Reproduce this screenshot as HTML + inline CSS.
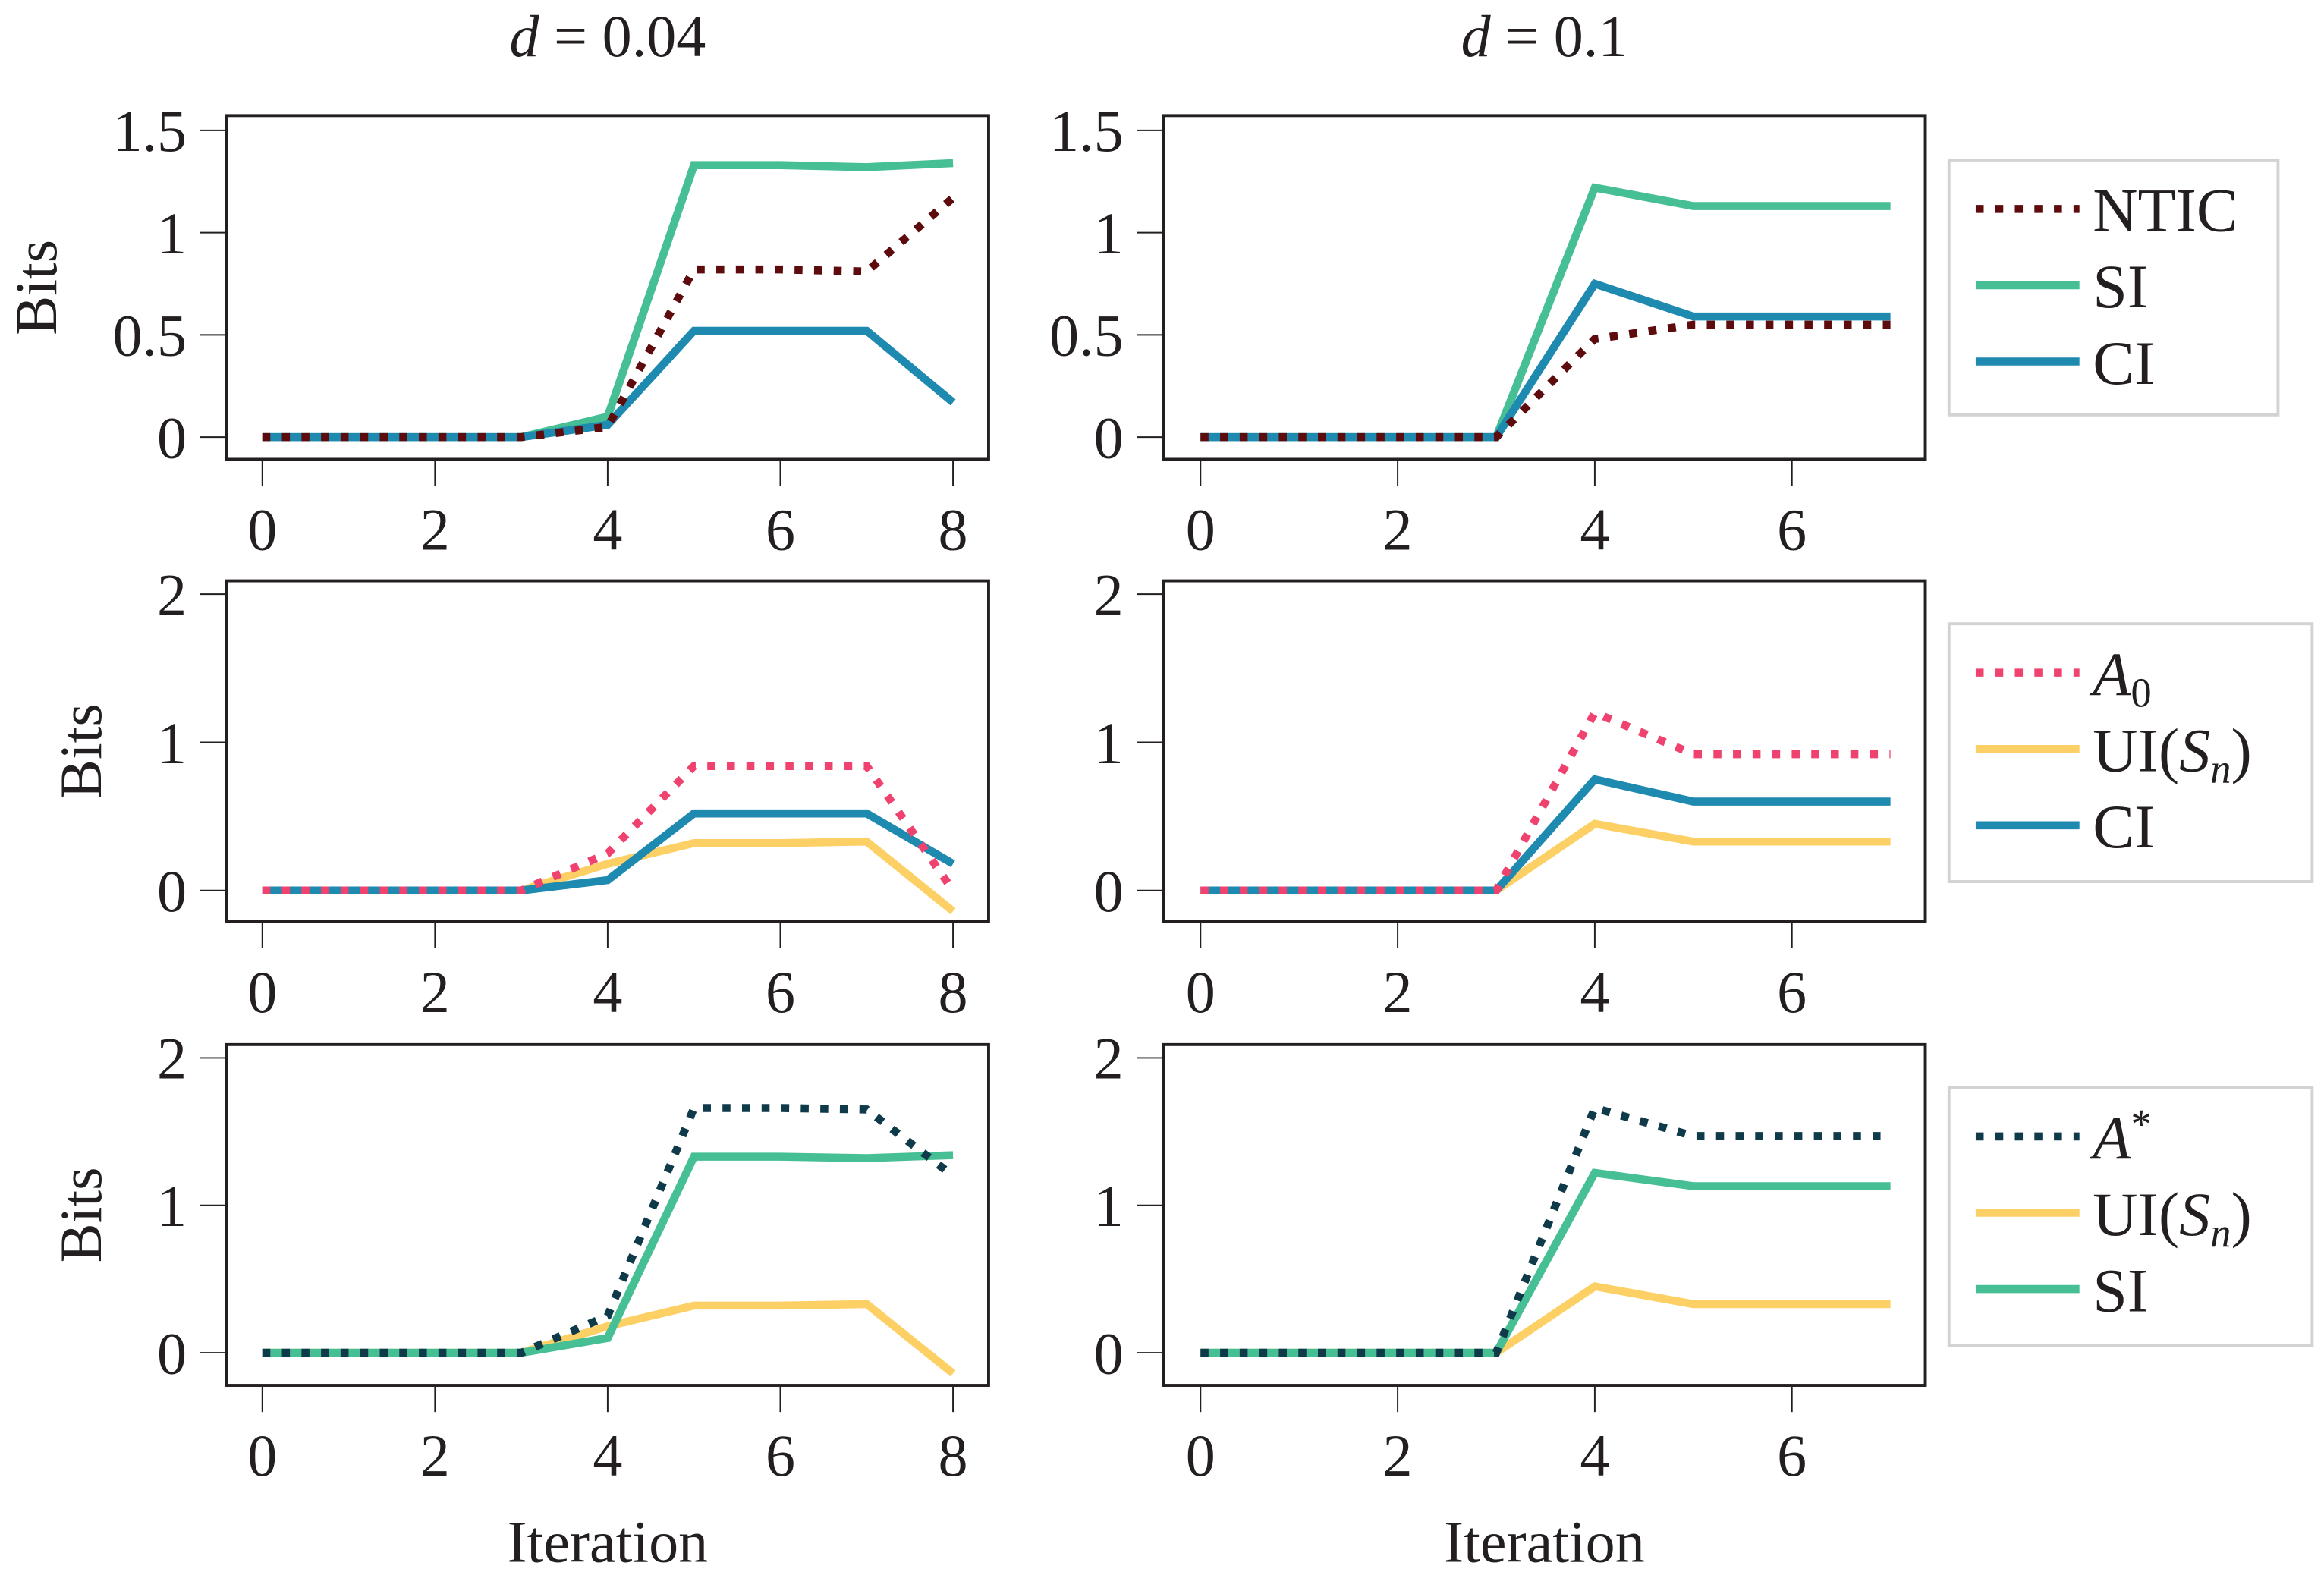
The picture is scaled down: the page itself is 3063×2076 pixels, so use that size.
<!DOCTYPE html>
<html><head><meta charset="utf-8"><style>
html,body{margin:0;padding:0;background:#fff;}
svg{display:block;}
text{font-family:"Liberation Serif",serif;fill:#231f20;}
</style></head><body>
<svg id="chart" width="3063" height="2076" viewBox="0 0 1568 1063" preserveAspectRatio="none" xmlns="http://www.w3.org/2000/svg">
<text x="410" y="38" font-size="40" text-anchor="middle"><tspan font-style="italic">d</tspan> = 0.04</text>
<text x="1042" y="38" font-size="40" text-anchor="middle"><tspan font-style="italic">d</tspan> = 0.1</text>
<text x="410" y="1054" font-size="40" text-anchor="middle">Iteration</text>
<text x="1042" y="1054" font-size="40" text-anchor="middle">Iteration</text>
<g id="plots"></g>
</svg>
<script>
const xLeft = [0,1,2,3,4,5,6,7,8];
const xRight = [0,1,2,3,4,5,6,7];
const tlNTIC = [0,0,0,0,0.05,0.82,0.82,0.81,1.17];
const tlSI = [0,0,0,0,0.1,1.33,1.33,1.32,1.34];
const tlCI = [0,0,0,0,0.06,0.52,0.52,0.52,0.17];
const trNTIC = [0,0,0,0,0.48,0.55,0.55,0.55];
const trSI = [0,0,0,0,1.22,1.13,1.13,1.13];
const trCI = [0,0,0,0,0.75,0.59,0.59,0.59];
const mlA0 = [0,0,0,0,0.25,0.84,0.84,0.84,0.0];
const mlUI = [0,0,0,0,0.18,0.32,0.32,0.33,-0.14];
const mlCI = [0,0,0,0,0.07,0.52,0.52,0.52,0.18];
const mrA0 = [0,0,0,0,1.2,0.92,0.92,0.92];
const mrUI = [0,0,0,0,0.45,0.33,0.33,0.33];
const mrCI = [0,0,0,0,0.75,0.6,0.6,0.6];
const blAS = [0,0,0,0,0.25,1.66,1.66,1.65,1.2];
const blUI = [0,0,0,0,0.18,0.32,0.32,0.33,-0.14];
const blSI = [0,0,0,0,0.1,1.33,1.33,1.32,1.34];
const brAS = [0,0,0,0,1.66,1.47,1.47,1.47];
const brUI = [0,0,0,0,0.45,0.33,0.33,0.33];
const brSI = [0,0,0,0,1.22,1.13,1.13,1.13];
const yTicksTop = [0,0.5,1,1.5];
const yTicksLow = [0,1,2];
const xTicksLeft = [0,2,4,6,8];
const xTicksRight = [0,2,4,6];

const C = {NTIC:'#5e0b0d', SI:'#47bf94', CI:'#1f8ab0', A0:'#f0426e', UI:'#fdd065', AS:'#0f3a4a'};
const NS='http://www.w3.org/2000/svg';
const root=document.getElementById('plots');
function mk(tag,attrs,parent){const e=document.createElementNS(NS,tag);for(const k in attrs)e.setAttribute(k,attrs[k]);(parent||root).appendChild(e);return e;}

function panel(name,box,xr,yr,xTicks,yTicks,series,bitsLabel){
  const g=mk('g',{});
  
  
  const sx=v=>box.x0px+(v-xr[0])*(box.x1px-box.x0px)/(xr[1]-xr[0]);
  const sy=v=>box.y0px+(v-yr[0])*(box.y1px-box.y0px)/(yr[1]-yr[0]);
  xTicks.forEach(t=>{
    const l=mk('line',{x1:sx(t),x2:sx(t),y1:box.b+1,y2:box.b+18,stroke:'#231f20','stroke-width':1},g);
    
    
    const tx=mk('text',{x:sx(t),y:box.b+61,'font-size':40,'text-anchor':'middle'},g);
    
    
    tx.textContent=String(t);
  });
  yTicks.forEach(t=>{
    const l=mk('line',{x1:box.l-18,x2:box.l,y1:sy(t),y2:sy(t),stroke:'#231f20','stroke-width':1},g);
    
    
    const tx=mk('text',{x:box.l-27,y:sy(t)+14,'font-size':40,'text-anchor':'end'},g);
    
    
    tx.textContent=String(t);
  });
  series.forEach(s=>{
    const pts=s.data.map((v,i)=>sx(s.x[i])+','+sy(v)).join(' ');
    const p=mk('polyline',{points:pts,fill:'none',stroke:s.color,'stroke-width':5.4,'stroke-linejoin':'miter'},g);
    if(s.dot)p.setAttribute('stroke-dasharray','5.4 7.8');
    
    
  });
  const fr=mk('rect',{x:box.l,y:box.t,width:box.r-box.l,height:box.b-box.t,fill:'none',stroke:'#231f20','stroke-width':2},g);
  
  
  if(bitsLabel){
    const cy=(box.t+box.b)/2;
    const bx=mk('text',{x:bitsLabel,y:cy,'font-size':40,'text-anchor':'middle',transform:'rotate(-90 '+bitsLabel+' '+cy+')'},g);
    
    
    bx.textContent='Bits';
  }
}
function legend(name,box,entries){
  const g=mk('g',{});
  
  
  mk('rect',{x:box.x,y:box.y,width:box.w,height:box.h,fill:'#fff',stroke:'#d3d3d3','stroke-width':2},g);
  entries.forEach((e,i)=>{
    const y=box.y+33+i*51.5;
    const l=mk('line',{x1:box.x+18,x2:box.x+88,y1:y,y2:y,stroke:e.color,'stroke-width':5.4},g);
    if(e.dot)l.setAttribute('stroke-dasharray','5.4 7.8');
    
    
    const t=mk('text',{x:box.x+97,y:y+15,'font-size':42},g);
    
    
    t.innerHTML=e.label;
  });
}
const colL={l:153,r:667,x0px:177,x1px:643};
const colR={l:785,r:1299,x0px:810,x1px:1209};
const rowT={t:78,b:310,y0px:295,y1px:88};
const rowM={t:392,b:622,y0px:601,y1px:401};
const rowB={t:705,b:935,y0px:913,y1px:714};
const B=(c,r)=>Object.assign({},c,r);
panel('panel-top-left',B(colL,rowT),[0,8],[0,1.5],xTicksLeft,yTicksTop,[
 {name:'si',x:xLeft,data:tlSI,color:C.SI},{name:'ci',x:xLeft,data:tlCI,color:C.CI},{name:'ntic',x:xLeft,data:tlNTIC,color:C.NTIC,dot:true}],38);
panel('panel-top-right',B(colR,rowT),[0,6],[0,1.5],xTicksRight,yTicksTop,[
 {name:'si',x:xRight,data:trSI,color:C.SI},{name:'ci',x:xRight,data:trCI,color:C.CI},{name:'ntic',x:xRight,data:trNTIC,color:C.NTIC,dot:true}],null);
panel('panel-middle-left',B(colL,rowM),[0,8],[0,2],xTicksLeft,yTicksLow,[
 {name:'ui',x:xLeft,data:mlUI,color:C.UI},{name:'ci',x:xLeft,data:mlCI,color:C.CI},{name:'a0',x:xLeft,data:mlA0,color:C.A0,dot:true}],68);
panel('panel-middle-right',B(colR,rowM),[0,6],[0,2],xTicksRight,yTicksLow,[
 {name:'ui',x:xRight,data:mrUI,color:C.UI},{name:'ci',x:xRight,data:mrCI,color:C.CI},{name:'a0',x:xRight,data:mrA0,color:C.A0,dot:true}],null);
panel('panel-bottom-left',B(colL,rowB),[0,8],[0,2],xTicksLeft,yTicksLow,[
 {name:'ui',x:xLeft,data:blUI,color:C.UI},{name:'si',x:xLeft,data:blSI,color:C.SI},{name:'a-star',x:xLeft,data:blAS,color:C.AS,dot:true}],68);
panel('panel-bottom-right',B(colR,rowB),[0,6],[0,2],xTicksRight,yTicksLow,[
 {name:'ui',x:xRight,data:brUI,color:C.UI},{name:'si',x:xRight,data:brSI,color:C.SI},{name:'a-star',x:xRight,data:brAS,color:C.AS,dot:true}],null);
legend('legend-top',{x:1315,y:108,w:222,h:172},[
 {label:'NTIC',color:C.NTIC,dot:true},{label:'SI',color:C.SI},{label:'CI',color:C.CI}]);
legend('legend-middle',{x:1315,y:421,w:245,h:174},[
 {label:'<tspan font-style="italic">A</tspan><tspan font-size="28" dy="8">0</tspan>',color:C.A0,dot:true},
 {label:'UI(<tspan font-style="italic">S</tspan><tspan font-style="italic" font-size="28" dy="8">n</tspan><tspan dy="-8">)</tspan>',color:C.UI},
 {label:'CI',color:C.CI}]);
legend('legend-bottom',{x:1315,y:734,w:245,h:174},[
 {label:'<tspan font-style="italic">A</tspan><tspan font-size="28" dy="-14">*</tspan>',color:C.AS,dot:true},
 {label:'UI(<tspan font-style="italic">S</tspan><tspan font-style="italic" font-size="28" dy="8">n</tspan><tspan dy="-8">)</tspan>',color:C.UI},
 {label:'SI',color:C.SI}]);
</script>
</body></html>
